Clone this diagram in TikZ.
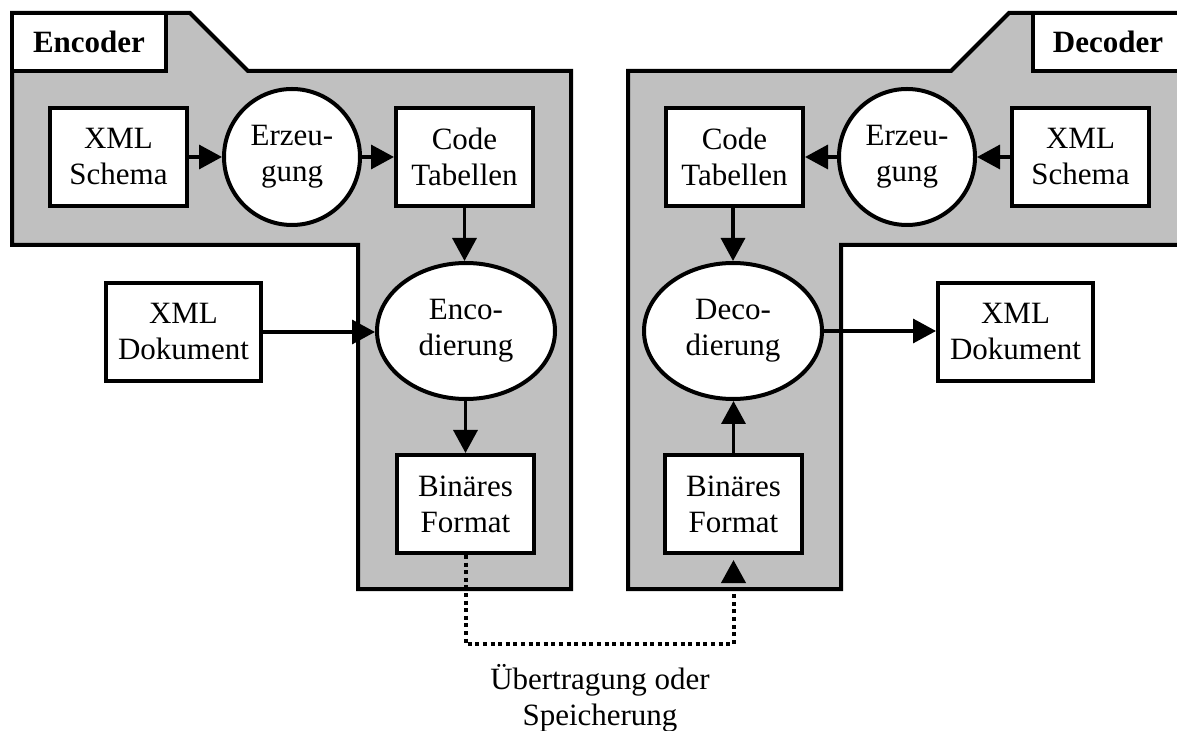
\documentclass[tikz,border=0pt]{standalone}
\usepackage{fontspec}
\setmainfont{Liberation Serif}
\usetikzlibrary{arrows.meta,shapes.geometric}
\begin{document}
\begin{tikzpicture}[x=0.5pt,y=-0.5pt,
  txt/.style={font=\fontsize{15.5pt}{18pt}\selectfont},
  box/.style={txt,draw,line width=2pt,fill=white,minimum width=68.5pt,minimum height=49pt,inner sep=0pt,align=center},
  widebox/.style={box,minimum width=77.5pt},
  circ/.style={txt,draw,circle,line width=2pt,fill=white,minimum size=68pt,inner sep=0pt,align=center},
  ell/.style={txt,draw,ellipse,line width=2pt,fill=white,minimum width=89pt,minimum height=68pt,inner sep=0pt,align=center},
  region/.style={draw,line width=2pt,fill=gray75,line join=miter},
  labelbox/.style={draw,line width=2pt,fill=white},
  title/.style={font=\fontsize{15.5pt}{18pt}\selectfont\bfseries},
  arr/.style={line width=1.7pt,-{Triangle[length=11.5pt,width=12pt]}},
  dotline/.style={line width=2pt,dash pattern=on 2pt off 1.8pt,-{Triangle[length=11.5pt,width=12pt]},shorten >=2.5pt}
]
\definecolor{gray75}{RGB}{192,192,192}
\useasboundingbox (0,0) rectangle (1177,731);

% regions
\draw[region] (12,13) -- (190,13) -- (248,71) -- (571,71) -- (571,589) -- (358,589) -- (358,245) -- (12,245) -- cycle;
\draw[labelbox] (12,13) rectangle (166,71);
\node[title] (enctitle) at (89,42) {Encoder};

\draw[region] (1189,13) -- (1009,13) -- (951,71) -- (628,71) -- (628,589) -- (841,589) -- (841,245) -- (1189,245) -- cycle;
\draw[labelbox] (1033,13) rectangle (1189,71);
\node[title] (dectitle) at (1108,42) {Decoder};

% encoder nodes
\node[box] (xmlA) at (118.5,157) {XML\\Schema};
\node[circ] (erzA) at (292,157) {Erzeu-\\gung};
\node[box] (codeA) at (464.5,157) {Code\\Tabellen};
\node[ell] (encA) at (466,331) {Enco-\\dierung};
\node[widebox] (dokA) at (183.5,332) {XML\\Dokument};
\node[box] (binA) at (465.5,504) {Binäres\\Format};

% decoder nodes
\node[box] (xmlB) at (1080.5,157) {XML\\Schema};
\node[circ] (erzB) at (907,157) {Erzeu-\\gung};
\node[box] (codeB) at (734.5,157) {Code\\Tabellen};
\node[ell] (decB) at (733,331) {Deco-\\dierung};
\node[widebox] (dokB) at (1015.5,332) {XML\\Dokument};
\node[box] (binB) at (733.5,504) {Binäres\\Format};

% arrows encoder
\draw[arr] (xmlA) -- (erzA);
\draw[arr] (erzA) -- (codeA);
\draw[arr] (codeA.south) -- (codeA.south |- encA.north);
\draw[arr] (dokA.east) -- (dokA.east -| encA.west);
\draw[arr] (encA.south -| binA.north) -- (binA.north);

% arrows decoder
\draw[arr] (xmlB) -- (erzB);
\draw[arr] (erzB) -- (codeB);
\draw[arr] (codeB.south -| decB.north) -- (decB.north);
\draw[arr] (decB.east) -- (decB.east -| dokB.west);
\draw[arr] (binB.north) -- (binB.north |- decB.south);

% transfer
\coordinate (turn) at (465.5,644);
\draw[dotline] (binA.south) -- (turn) -| (binB.south);
\node[txt,align=center] (caption) at (600,698) {Übertragung oder\\Speicherung};
\end{tikzpicture}
\end{document}
